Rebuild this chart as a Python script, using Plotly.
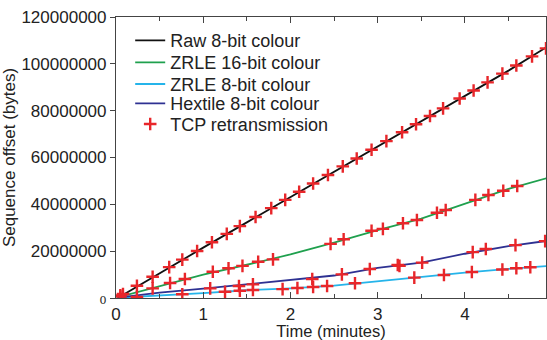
import plotly.graph_objects as go

# Line data (time in minutes, sequence offset in millions of bytes)
t_line = [0.02, 0.5, 1.0, 1.5, 2.0, 2.5, 3.0, 3.5, 4.0, 4.5, 4.94]
raw8 = [0.0, 10.6, 21.5, 32.3, 43.1, 53.9, 64.8, 75.6, 86.4, 97.1, 107.2]
zrle16 = [0.3, 5.0, 10.0, 14.2, 18.6, 23.6, 29.0, 33.9, 40.4, 46.6, 51.2]
zrle8 = [0.1, 1.0, 2.1, 3.3, 4.1, 5.3, 7.2, 9.0, 10.8, 12.4, 13.6]
hextile8 = [0.2, 2.3, 4.0, 5.8, 7.5, 9.6, 12.9, 15.1, 18.9, 22.2, 24.4]

# TCP retransmission markers
raw_tx = [0.05, 0.08, 0.24, 0.42, 0.61, 0.76, 0.93, 1.10, 1.27, 1.42, 1.60, 1.78, 1.94, 2.10,
          2.26, 2.43, 2.60, 2.76, 2.93, 3.10, 3.28, 3.44, 3.60, 3.75, 3.94, 4.10, 4.26, 4.43,
          4.59, 4.77, 4.93]
raw_ty = [1.1, 1.7, 5.2, 9.1, 13.2, 16.4, 20.1, 23.8, 27.4, 30.7, 34.6, 38.4, 41.9, 45.4,
          48.9, 52.5, 56.2, 59.6, 63.3, 67.0, 70.8, 74.2, 77.7, 81.0, 85.2, 88.6, 92.1, 95.8,
          99.3, 103.2, 106.6]
z16_tx = [0.05, 0.42, 0.62, 0.79, 1.11, 1.29, 1.45, 1.63, 1.80, 2.46, 2.61, 2.93, 3.06, 3.29,
          3.45, 3.68, 3.78, 4.12, 4.27, 4.44, 4.60]
z16_ty = [0.6, 4.1, 6.4, 8.1, 11.2, 12.7, 13.7, 15.5, 16.5, 23.1, 25.1, 28.7, 29.5, 31.9,
          33.3, 36.4, 37.6, 41.9, 44.0, 45.8, 47.8]
hex_tx = [1.08, 1.41, 1.57, 2.25, 2.59, 2.91, 3.23, 3.25, 3.51, 4.09, 4.24, 4.58, 4.92]
hex_ty = [4.1, 5.1, 5.8, 8.1, 10.1, 12.4, 14.1, 13.7, 15.1, 19.6, 20.9, 22.6, 24.3]
z8_tx = [0.24, 0.76, 1.25, 1.42, 1.57, 1.91, 2.08, 2.26, 2.42, 2.74, 3.42, 3.76, 4.08, 4.43,
         4.59, 4.75]
z8_ty = [0.4, 1.6, 2.7, 3.1, 3.4, 3.8, 4.3, 4.7, 5.1, 6.3, 8.7, 9.8, 11.1, 12.2, 12.7, 13.1]

M = 1e6
y_ticks = [0, 20, 40, 60, 80, 100, 120]
x_ticks = [0, 1, 2, 3, 4]
y_ticktext = ['<span style="font-size:11px;font-family:DejaVu Serif">0</span>'] + \
    [str(int(v * M)) for v in y_ticks[1:]]

font = "Liberation Sans, Arial, sans-serif"
legend_rows = [0.9157, 0.8374, 0.7605, 0.6915, 0.6181]

fig = go.Figure()
series = [
    ("Raw 8-bit colour", raw8, "#111111"),
    ("ZRLE 16-bit colour", zrle16, "#1fa04e"),
    ("ZRLE 8-bit colour", zrle8, "#25b4ea"),
    ("Hextile 8-bit colour", hextile8, "#2e3192"),
]
legend_names = ["legend", "legend2", "legend3", "legend4", "legend5"]
for i, (name, ys, col) in enumerate(series):
    fig.add_trace(go.Scatter(x=t_line, y=[v * M for v in ys], mode="lines", name=name,
                             legend=legend_names[i],
                             line=dict(color=col, width=1.8)))

tx = raw_tx + z16_tx + hex_tx + z8_tx
ty = raw_ty + z16_ty + hex_ty + z8_ty
fig.add_trace(go.Scatter(x=tx, y=[v * M for v in ty], mode="markers", name="TCP retransmission",
                         legend="legend5",
                         marker=dict(symbol="cross-thin", size=9, color="#e8262a",
                                     line=dict(color="#e8262a", width=2.4))))

legend_common = dict(x=0.033, xanchor="left", yanchor="middle", bgcolor="rgba(0,0,0,0)",
                     font=dict(size=18, family=font, color="#222222"), itemwidth=30)
layout_legends = {}
for name, yy in zip(legend_names, legend_rows):
    layout_legends[name] = dict(y=yy, **legend_common)

fig.update_layout(
    width=547, height=340,
    margin=dict(l=116, r=1, t=17, b=42),
    plot_bgcolor="white", paper_bgcolor="white",
    font=dict(family=font, size=16, color="#222222"),
    showlegend=True,
    xaxis=dict(range=[0, 4.93], tickvals=x_ticks, ticktext=[str(v) for v in x_ticks],
               ticks="inside", ticklen=6, tickcolor="#444", mirror="ticks",
               showline=True, linecolor="#444", linewidth=1.2, showgrid=False, zeroline=False,
               minor=dict(tickvals=[0.5, 1.5, 2.5, 3.5, 4.5], ticks="inside", ticklen=4,
                          tickcolor="#444"),
               tickfont=dict(size=17),
               title=dict(text="Time (minutes)", standoff=2, font=dict(size=16.5))),
    yaxis=dict(range=[0, 120 * M], tickvals=[v * M for v in y_ticks],
               ticktext=y_ticktext, tickfont=dict(size=17),
               ticks="outside", ticklen=5, tickcolor="#444", mirror=True,
               showline=True, linecolor="#444", linewidth=1.2, showgrid=False, zeroline=False,
               title=dict(text="Sequence offset (bytes)", standoff=2, font=dict(size=17))),
    yaxis2=dict(overlaying="y", side="right", matches="y", range=[0, 120 * M],
                tickvals=[v * M for v in y_ticks], showticklabels=False,
                ticks="inside", ticklen=5, tickcolor="#444", showgrid=False, zeroline=False),
    **layout_legends,
)
fig.write_html("out.html")
